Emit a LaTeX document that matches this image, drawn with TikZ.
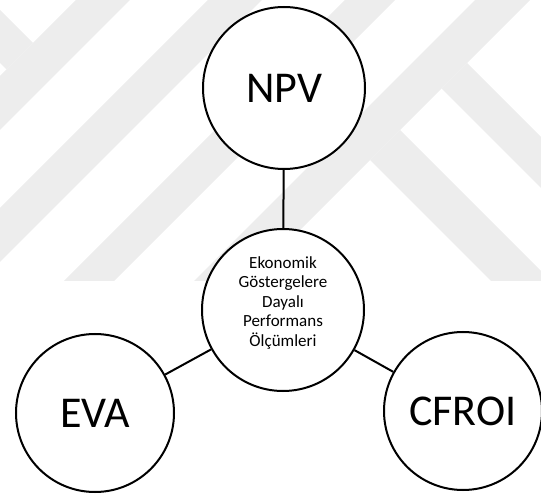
\documentclass[tikz,border=0pt]{standalone}
\usepackage{fontspec}
\setmainfont{Carlito}
\definecolor{markgray}{HTML}{EDEDED}
\begin{document}
\begin{tikzpicture}[x=1pt,y=-1pt,
  bubble/.style={circle,draw=black,fill=white,line width=2pt,inner sep=0pt},
  topbubble/.style={bubble,minimum size=162pt,font=\fontsize{44}{52}\selectfont},
  sidebubble/.style={bubble,minimum size=158pt,font=\fontsize{44}{52}\selectfont},
  hubtext/.style={align=center,inner sep=0pt,font=\fontsize{17}{19.5}\selectfont},
  link/.style={draw=black,line width=2pt}]
\useasboundingbox (0,0) rectangle (541,494);

% faint diagonal bands in the background
\begin{scope}
  \clip (0,0) rectangle (541,494);
  \fill[markgray] (76,0) -- (130,0) -- (0,130) -- (0,76) -- cycle;
  \fill[markgray] (0,10) -- (33,43) -- (6.5,69.5) -- (0,63) -- cycle;
  \fill[markgray] (208,0) -- (262,0) -- (0,262) -- (0,208) -- cycle;
  \fill[markgray] (345,0) -- (395,0) -- (114,281) -- (64,281) -- cycle;
  \fill[markgray] (475,0) -- (530,0) -- (249,281) -- (194,281) -- cycle;
  \fill[markgray] (467,63) -- (541,137) -- (541,188) -- (441.5,88.5) -- cycle;
  \fill[markgray] (400,130) -- (541,271) -- (541,281) -- (491,281) -- (370,160) -- cycle;
\end{scope}

% the four measures
\node[topbubble] (npv) at (284,88) {NPV};
\node[topbubble] (hub) at (283,310) {};
\node[sidebubble] (eva) at (95,413) {EVA};
\node[sidebubble] (cfroi) at (463,411) {CFROI};
\node[hubtext] (hublabel) at (283,303) {Ekonomik\\Göstergelere\\Dayalı\\Performans\\Ölçümleri};

% connectors
\draw[link] (npv) -- (hub);
\draw[link] (hub) -- (eva);
\draw[link] (hub) -- (cfroi);
\end{tikzpicture}
\end{document}
